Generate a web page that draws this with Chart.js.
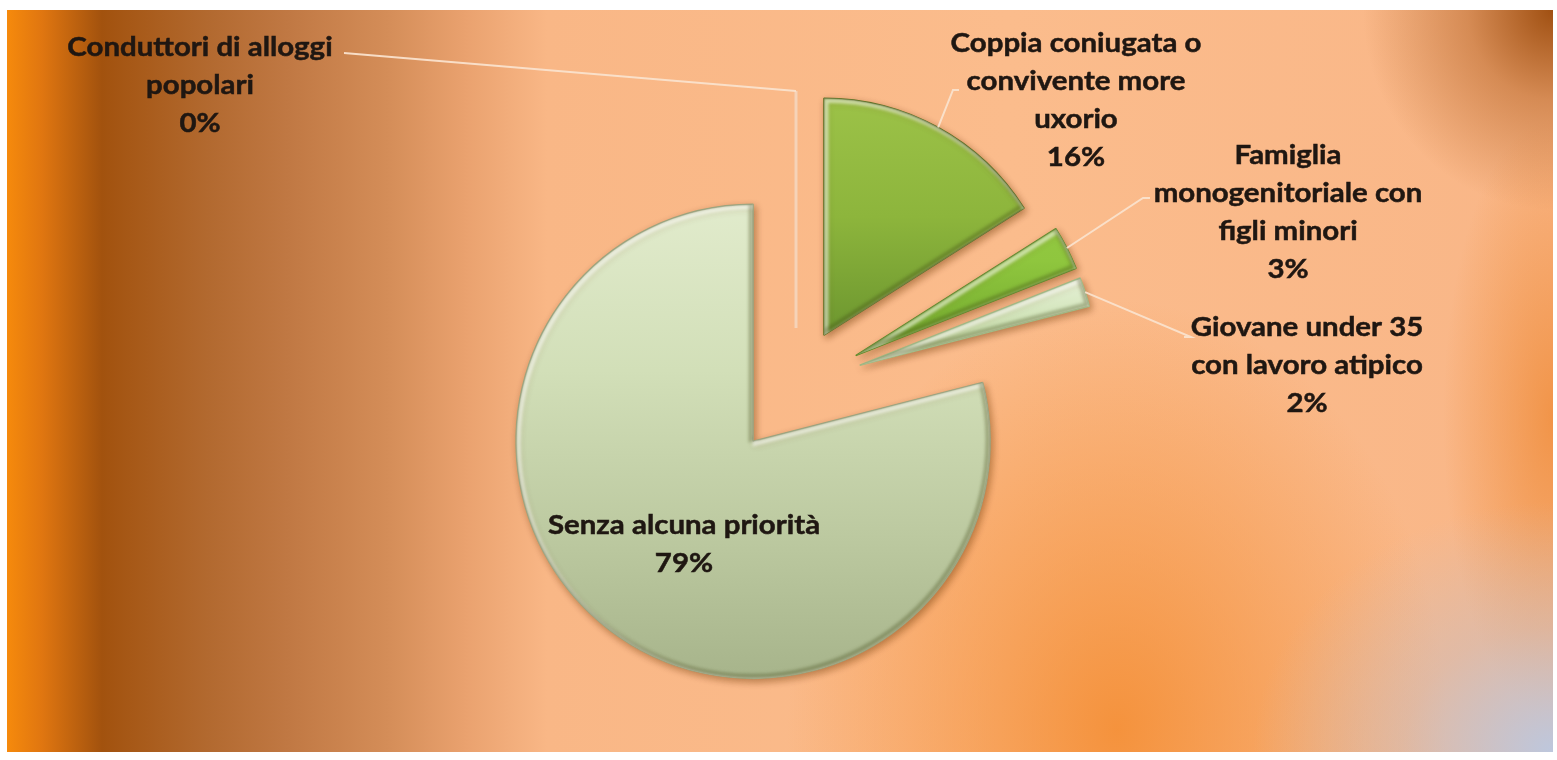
<!DOCTYPE html>
<html>
<head>
<meta charset="utf-8">
<script src="https://cdn.jsdelivr.net/npm/chart.js@4.4.0/dist/chart.umd.min.js"></script>
<style>
  html, body { margin: 0; padding: 0; background: #fff; }
  #wrap { position: relative; width: 1557px; height: 760px; overflow: hidden; }
  #bg {
    position: absolute; left: 7px; top: 10px; width: 1546px; height: 742px;
    background:
      radial-gradient(ellipse 300px 250px at 100% 100%, rgba(186,200,226,0.95), rgba(200,190,195,0.5) 50%, rgba(200,190,195,0) 100%),
      radial-gradient(ellipse 190px 200px at 100% 0%, rgba(160,80,18,1), rgba(190,110,50,0.6) 45%, rgba(190,110,50,0) 100%),
      radial-gradient(ellipse 110px 300px at 100% 55%, rgba(238,134,46,0.7), rgba(238,134,46,0) 100%),
      radial-gradient(ellipse 330px 430px at 1110px 720px, rgba(244,142,52,0.9), rgba(244,142,52,0) 100%),
      linear-gradient(to right, #f68a0c 0px, #e07610 35px, #a2520e 95px, #a95c1c 140px, #b2692f 200px,
        #c07843 280px, #d48d58 380px, #eaa26f 460px, #f9b786 540px, #fbbc8c 1000px, #f9b687 1546px);
  }
  #chart { position: absolute; left: 0; top: 0; }
</style>
</head>
<body>
<div id="wrap">
  <div id="bg"></div>
  <canvas id="chart" width="1557" height="760"></canvas>
</div>
<script>
document.addEventListener("DOMContentLoaded", () => {
  // Data (percent shares, clockwise from 12 o'clock)
  const categories = [
    "Conduttori di alloggi popolari",
    "Coppia coniugata o convivente more uxorio",
    "Famiglia monogenitoriale con figli minori",
    "Giovane under 35 con lavoro atipico",
    "Senza alcuna priorità"
  ];
  const shares = [0, 16, 3, 2, 79];

  // How the category names wrap on the picture
  const labelLines = [
    ["Conduttori di alloggi", "popolari"],
    ["Coppia coniugata o", "convivente more", "uxorio"],
    ["Famiglia", "monogenitoriale con", "figli minori"],
    ["Giovane under 35", "con lavoro atipico"],
    ["Senza alcuna priorità"]
  ];

  // Styling / layout
  const RADIUS = 237;
  const explode = [58, 58, 67, 67, 70];
  // centre of the first label line, relative to the pie centre
  const labelAnchor = [[-596, -339], [280, -343], [492, -231], [511, -59], [-112, 139]];
  // label-side end of the leader line (relative to pie centre), null = none
  const leaderStart = [[-452, -333], [163, -296], [354, -188], [388, -49], null];
  const leaderStub = [0, 6, 7, -7, 0];
  const LINE_H = 38;
  const FONT = "bold 27px Lato";
  const TEXT_STRETCH = 1.09;
  const TEXT_COLOR = "#1f1712";
  const LEADER_COLOR = "rgba(250,226,204,0.95)";
  const ZERO_COLOR = "rgba(246,212,186,0.95)";

  const gradStops = [
    [[0, "#f4d2b8"], [1, "#f4d2b8"]],
    [[0, "#9cc248"], [0.25, "#8db53c"], [0.5, "#6c962f"], [1, "#5a8025"]],
    [[0, "#9ccf4a"], [0.3, "#8fc63e"], [0.5, "#6ea52b"], [1, "#5f9326"]],
    [[0, "#f2f8e8"], [0.32, "#e6f1d6"], [0.5, "#b6d294"], [1, "#a7c488"]],
    [[0, "#e1ebcc"], [0.35, "#d2dfb8"], [0.7, "#bcc9a0"], [1, "#a7b48b"]]
  ];
  const borderColors = ["#f0c8a8", "#5e7224", "#5f8a26", "#9fb982", "#9aa37c"];

  function sliceFill(ctx) {
    const chart = ctx.chart;
    const area = chart.chartArea;
    const stops = gradStops[ctx.dataIndex];
    if (!area) return stops[0][1];
    const cy = (area.top + area.bottom) / 2;
    const g = chart.ctx.createLinearGradient(0, cy - RADIUS, 0, cy + RADIUS);
    stops.forEach(s => g.addColorStop(s[0], s[1]));
    return g;
  }

  function slicePath(ctx, p) {
    ctx.beginPath();
    ctx.moveTo(p.x, p.y);
    ctx.arc(p.x, p.y, p.outerRadius, p.startAngle, p.endAngle);
    ctx.closePath();
  }

  const explodePlugin = {
    id: "explode",
    beforeDatasetDraw(chart, args) {
      const ctx = chart.ctx;
      args.meta.data.forEach((arc, i) => {
        const p = arc.getProps(["x", "y", "startAngle", "endAngle", "outerRadius"]);
        const mid = (p.startAngle + p.endAngle) / 2;
        ctx.save();
        ctx.translate(Math.cos(mid) * explode[i], Math.sin(mid) * explode[i]);
        if (p.endAngle - p.startAngle <= 0) {
          // a zero share shows as a thin radial line
          ctx.strokeStyle = ZERO_COLOR;
          ctx.lineWidth = 3;
          ctx.beginPath();
          ctx.moveTo(p.x, p.y);
          ctx.lineTo(p.x + Math.cos(mid) * p.outerRadius, p.y + Math.sin(mid) * p.outerRadius);
          ctx.stroke();
        } else {
          ctx.save();
          ctx.shadowColor = "rgba(110,55,10,0.45)";
          ctx.shadowBlur = 7;
          ctx.shadowOffsetX = 2;
          ctx.shadowOffsetY = 3;
          arc.draw(ctx);
          ctx.restore();
          // bevel: light upper edges, dark lower edges
          ctx.save();
          slicePath(ctx, p);
          ctx.clip();
          ctx.filter = "blur(1.5px)";
          ctx.lineWidth = 5;
          ctx.save();
          ctx.translate(2, 2);
          slicePath(ctx, p);
          ctx.strokeStyle = "rgba(255,255,255,0.55)";
          ctx.stroke();
          ctx.restore();
          ctx.save();
          ctx.translate(-2, -2);
          slicePath(ctx, p);
          ctx.strokeStyle = "rgba(60,70,20,0.3)";
          ctx.stroke();
          ctx.restore();
          ctx.restore();
        }
        ctx.restore();
      });
      return false;
    },
    afterDraw(chart) {
      const ctx = chart.ctx;
      const arcs = chart.getDatasetMeta(0).data;
      const area = chart.chartArea;
      const cx = (area.left + area.right) / 2;
      const cy = (area.top + area.bottom) / 2;
      ctx.save();
      // leader lines
      ctx.strokeStyle = LEADER_COLOR;
      ctx.lineWidth = 2;
      arcs.forEach((arc, i) => {
        if (!leaderStart[i]) return;
        const p = arc.getProps(["x", "y", "startAngle", "endAngle", "outerRadius"]);
        const mid = (p.startAngle + p.endAngle) / 2;
        const r = explode[i] + p.outerRadius;
        const ex = p.x + Math.cos(mid) * r;
        const ey = p.y + Math.sin(mid) * r;
        const sx = cx + leaderStart[i][0];
        const sy = cy + leaderStart[i][1];
        ctx.beginPath();
        ctx.moveTo(sx, sy);
        if (leaderStub[i]) ctx.lineTo(sx - leaderStub[i], sy);
        ctx.lineTo(ex, ey);
        ctx.stroke();
      });
      // labels
      ctx.font = FONT;
      ctx.fillStyle = TEXT_COLOR;
      ctx.strokeStyle = TEXT_COLOR;
      ctx.lineWidth = 0.5;
      ctx.textAlign = "center";
      ctx.textBaseline = "middle";
      labelLines.forEach((lines, i) => {
        const x = cx + labelAnchor[i][0];
        let y = cy + labelAnchor[i][1];
        lines.concat([shares[i] + "%"]).forEach(t => {
          ctx.save();
          ctx.translate(x, y);
          ctx.scale(TEXT_STRETCH, 1);
          ctx.fillText(t, 0, 0);
          ctx.strokeText(t, 0, 0);
          ctx.restore();
          y += LINE_H;
        });
      });
      ctx.restore();
    }
  };

  new Chart(document.getElementById("chart").getContext("2d"), {
    type: "pie",
    data: {
      labels: categories,
      datasets: [{
        data: shares,
        backgroundColor: sliceFill,
        borderColor: borderColors,
        borderWidth: 1.5,
        radius: RADIUS
      }]
    },
    options: {
      responsive: false,
      animation: false,
      events: [],
      layout: { padding: { left: 35, top: 12, right: 0, bottom: 0 } },
      plugins: {
        legend: { display: false },
        tooltip: { enabled: false }
      }
    },
    plugins: [explodePlugin]
  });
});
</script>
</body>
</html>
